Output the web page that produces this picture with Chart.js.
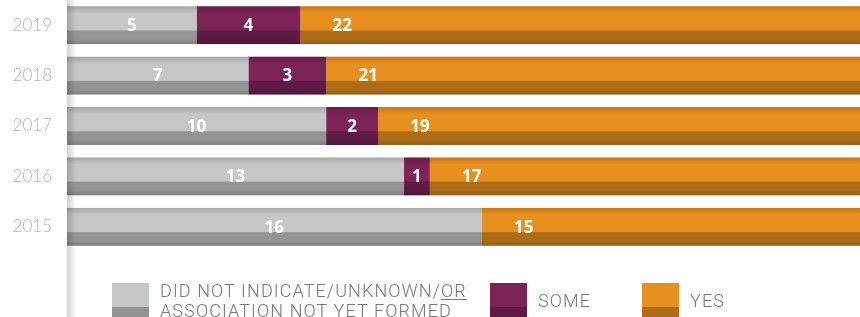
<!DOCTYPE html>
<html>
<head>
<meta charset="utf-8">
<script src="https://cdn.jsdelivr.net/npm/chart.js"></script>
<style>
  html, body { margin: 0; padding: 0; background: #fff; }
  .wrap { position: relative; width: 860px; height: 317px; overflow: hidden; }
  .legend { position: absolute; left: 112px; top: 281px; display: flex; font-family: Roboto, sans-serif; font-weight: 300; font-size: 18px; letter-spacing: 1.1px; line-height: 20px; color: #777; }
  .legend-item { display: flex; align-items: center; }
  .legend-item:nth-child(1) { width: 378px; }
  .legend-item:nth-child(2) { width: 152px; }
  .swatch { width: 37px; height: 37px; margin-right: 11px; flex: none; }
  .legend u { text-underline-offset: 2px; text-decoration-thickness: 1px; }
</style>
</head>
<body>
<div class="wrap">
  <canvas id="chart" width="860" height="317"></canvas>
  <div class="legend" id="legend"></div>
</div>
<script>
const years = ['2019', '2018', '2017', '2016', '2015'];
const unknownValues = [5, 7, 10, 13, 16];
const someValues = [4, 3, 2, 1, 0];
const yesValues = [22, 21, 19, 17, 15];
const seriesLabels = ['DID NOT INDICATE/UNKNOWN/<u>OR</u><br>ASSOCIATION NOT YET FORMED', 'SOME', 'YES'];
const seriesColors = ['#c5c6c6', '#7c2358', '#e8901f'];

// darker lower band + soft top shading on every bar
const shadePlugin = {
  id: 'shade',
  afterDatasetsDraw(chart) {
    const ctx = chart.ctx;
    chart.data.datasets.forEach((ds, i) => {
      chart.getDatasetMeta(i).data.forEach(bar => {
        const { x, y, base, height } = bar.getProps(['x', 'y', 'base', 'height'], true);
        if (x - base <= 0) return;
        const top = y - height / 2;
        const split = top + height * 0.64;
        ctx.save();
        ctx.fillStyle = 'rgba(0,0,0,0.25)';
        ctx.fillRect(base, split, x - base, top + height - split);
        const g = ctx.createLinearGradient(0, top, 0, top + 7);
        g.addColorStop(0, 'rgba(0,0,0,0.16)');
        g.addColorStop(1, 'rgba(0,0,0,0)');
        ctx.fillStyle = g;
        ctx.fillRect(base, top, x - base, 7);
        const gb = ctx.createLinearGradient(0, top + height - 5, 0, top + height);
        gb.addColorStop(0, 'rgba(0,0,0,0)');
        gb.addColorStop(1, 'rgba(0,0,0,0.15)');
        ctx.fillStyle = gb;
        ctx.fillRect(base, top + height - 5, x - base, 5);
        ctx.restore();
      });
    });
  },
  afterDraw(chart) {
    const ctx = chart.ctx;
    const left = chart.chartArea.left;
    const g = ctx.createLinearGradient(left, 0, left + 9, 0);
    g.addColorStop(0, 'rgba(0,0,0,0.18)');
    g.addColorStop(1, 'rgba(0,0,0,0)');
    ctx.save();
    ctx.fillStyle = g;
    ctx.fillRect(left, 0, 9, chart.height);
    ctx.restore();
  }
};

const valueLabels = {
  id: 'valueLabels',
  afterDatasetsDraw(chart) {
    const ctx = chart.ctx;
    ctx.save();
    ctx.fillStyle = '#fff';
    ctx.font = '700 17px "Open Sans", sans-serif';
    ctx.textAlign = 'center';
    ctx.textBaseline = 'middle';
    const last = chart.data.datasets.length - 1;
    chart.data.datasets.forEach((ds, i) => {
      chart.getDatasetMeta(i).data.forEach((bar, j) => {
        const v = ds.data[j];
        if (!v) return;
        const { x, y, base } = bar.getProps(['x', 'y', 'base'], true);
        const cx = i === last ? base + 42 : (x + base) / 2;
        ctx.fillText(String(v), cx, y + 1);
      });
    });
    ctx.restore();
  }
};

const chart = new Chart(document.getElementById('chart'), {
  type: 'bar',
  data: {
    labels: years,
    datasets: [unknownValues, someValues, yesValues].map((data, i) => ({
      label: seriesLabels[i],
      data: data,
      backgroundColor: seriesColors[i],
      borderWidth: 0,
      barPercentage: 0.75,
      categoryPercentage: 1
    }))
  },
  options: {
    indexAxis: 'y',
    responsive: false,
    animation: false,
    layout: { padding: { top: 0, right: 0, bottom: 65, left: 0 } },
    plugins: { legend: { display: false }, tooltip: { enabled: false } },
    scales: {
      x: { stacked: true, min: 0, max: 30.6, display: false },
      y: {
        stacked: true,
        grid: { display: false, drawTicks: false },
        border: { display: false },
        ticks: {
          color: '#b3b3b3',
          padding: 15,
          font: { family: 'Lato', size: 17, weight: 300 }
        },
        afterFit(scale) {
          scale.width = 67;
          scale.paddingTop = 0;
          scale.paddingBottom = 0;
        }
      }
    }
  },
  plugins: [shadePlugin, valueLabels]
});

// html legend built from the datasets
const legend = document.getElementById('legend');
chart.data.datasets.forEach(ds => {
  const item = document.createElement('div');
  item.className = 'legend-item';
  const sw = document.createElement('div');
  sw.className = 'swatch';
  sw.style.background = 'linear-gradient(rgba(0,0,0,0) 66%, rgba(0,0,0,0.25) 66%), ' + ds.backgroundColor;
  const txt = document.createElement('div');
  txt.innerHTML = ds.label;
  item.appendChild(sw);
  item.appendChild(txt);
  legend.appendChild(item);
});
</script>
</body>
</html>
